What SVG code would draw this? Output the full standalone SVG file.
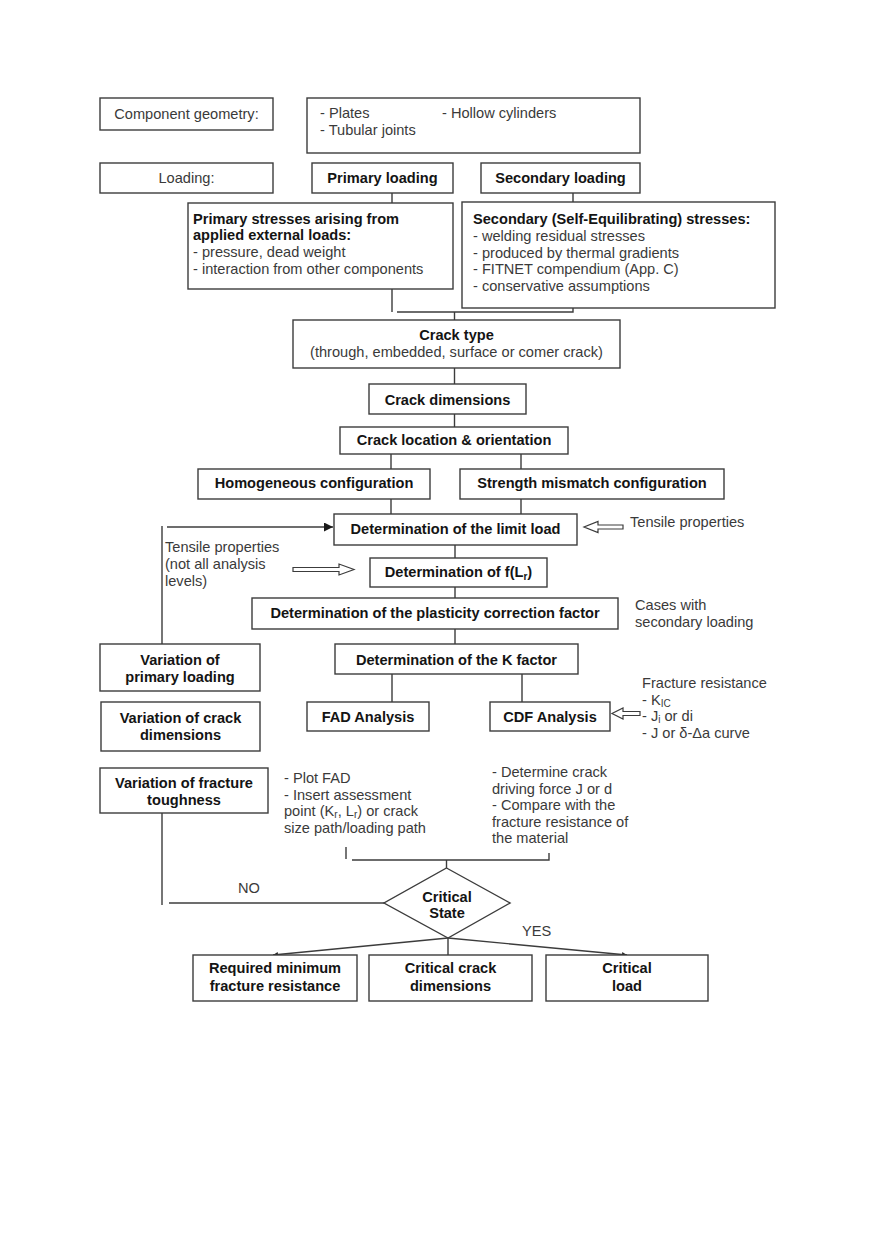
<svg xmlns="http://www.w3.org/2000/svg" width="872" height="1240" viewBox="0 0 872 1240">
<defs>
<style>
.box{fill:#fff;stroke:#3c3c3c;stroke-width:1.4}
.ln{fill:none;stroke:#3c3c3c;stroke-width:1.4}
.ha{fill:#fff;stroke:#3c3c3c;stroke-width:1.2}
text{font-family:"Liberation Sans",Arial,sans-serif;font-size:14.6px}
.r{fill:#3a3a3a}
.b{font-weight:bold;fill:#141414;text-anchor:middle}
.bl{font-weight:bold;fill:#141414}
.c{text-anchor:middle}
.sub{font-size:10px}
</style>
<marker id="ah" viewBox="0 0 10 10" refX="10" refY="5" markerWidth="9" markerHeight="9" markerUnits="userSpaceOnUse" orient="auto">
<path d="M0,0 L10,5 L0,10 z" fill="#1a1a1a"/>
</marker>
<marker id="sm" viewBox="0 0 10 10" refX="10" refY="5" markerWidth="6" markerHeight="5" markerUnits="userSpaceOnUse" orient="auto">
<path d="M0,0 L10,5 L0,10 z" fill="#2a2a2a"/>
</marker>
</defs>
<rect width="872" height="1240" fill="#fff"/>

<g id="connectors">
<line class="ln" x1="392" y1="193" x2="392" y2="203"/>
<line class="ln" x1="573" y1="193" x2="573" y2="202"/>
<line class="ln" x1="392" y1="289" x2="392" y2="312"/>
<polyline class="ln" points="397,312 573,312 573,308"/>
<line class="ln" x1="454.5" y1="312" x2="454.5" y2="320"/>
<line class="ln" x1="454.5" y1="368" x2="454.5" y2="384"/>
<line class="ln" x1="454.5" y1="414" x2="454.5" y2="427"/>
<line class="ln" x1="391" y1="454" x2="391" y2="469"/>
<line class="ln" x1="521" y1="454" x2="521" y2="469"/>
<line class="ln" x1="391" y1="499" x2="391" y2="514"/>
<line class="ln" x1="521" y1="499" x2="521" y2="514"/>
<line class="ln" x1="455" y1="545" x2="455" y2="558"/>
<line class="ln" x1="455" y1="587" x2="455" y2="598"/>
<line class="ln" x1="455" y1="629" x2="455" y2="644"/>
<line class="ln" x1="392" y1="674" x2="392" y2="702"/>
<line class="ln" x1="522" y1="674" x2="522" y2="702"/>
<line class="ln" x1="167" y1="527" x2="333" y2="527" marker-end="url(#ah)"/>
<line class="ln" x1="162" y1="526" x2="162" y2="644"/>
<line class="ln" x1="162" y1="813" x2="162" y2="905"/>
<line class="ln" x1="169" y1="903" x2="384" y2="903"/>
<line class="ln" x1="346" y1="847" x2="346" y2="859"/>
<polyline class="ln" points="352,860 549,860 549,853"/>
<line class="ln" x1="446.5" y1="860" x2="446.5" y2="868"/>
<line class="ln" x1="448" y1="938" x2="273" y2="955" marker-end="url(#sm)"/>
<line class="ln" x1="448" y1="938" x2="448" y2="955"/>
<line class="ln" x1="448" y1="938" x2="627" y2="955" marker-end="url(#sm)"/>
<polygon class="ha" points="293,567.5 339,567.5 339,564 354,569.5 339,575 339,571.5 293,571.5"/>
<polygon class="ha" points="623,525 598,525 598,521.5 584,527 598,532.5 598,529 623,529"/>
<polygon class="ha" points="640,711.5 623,711.5 623,708 612,713.5 623,719 623,715.5 640,715.5"/>
</g>

<g id="n-geometry-label"><rect class="box" x="100" y="98" width="173" height="32"/><text class="r c" x="186.5" y="119">Component geometry:</text></g>
<g id="n-geometry"><rect class="box" x="307" y="98" width="333" height="55"/>
<text class="r" x="320" y="118">- Plates</text><text class="r" x="442" y="118">- Hollow cylinders</text><text class="r" x="320" y="135">- Tubular joints</text></g>
<g id="n-loading-label"><rect class="box" x="100" y="163" width="173" height="30"/><text class="r c" x="186.5" y="183">Loading:</text></g>
<g id="n-primary-loading"><rect class="box" x="312" y="163" width="141" height="30"/><text class="b" x="382.5" y="183">Primary loading</text></g>
<g id="n-secondary-loading"><rect class="box" x="481" y="163" width="159" height="30"/><text class="b" x="560.5" y="183">Secondary loading</text></g>
<g id="n-primary-stresses"><rect class="box" x="188" y="203" width="265" height="86"/>
<text class="bl" x="193" y="224">Primary stresses arising from</text>
<text class="bl" x="193" y="240">applied external loads:</text>
<text class="r" x="193" y="257">- pressure, dead weight</text>
<text class="r" x="193" y="274">- interaction from other components</text></g>
<g id="n-secondary-stresses"><rect class="box" x="462" y="202" width="313" height="106"/>
<text class="bl" x="473" y="224">Secondary (Self-Equilibrating) stresses:</text>
<text class="r" x="473" y="241">- welding residual stresses</text>
<text class="r" x="473" y="257.5">- produced by thermal gradients</text>
<text class="r" x="473" y="274">- FITNET compendium (App. C)</text>
<text class="r" x="473" y="291">- conservative assumptions</text></g>
<g id="n-crack-type"><rect class="box" x="293" y="320" width="327" height="48"/>
<text class="b" x="456.5" y="340">Crack type</text><text class="r c" x="456.5" y="357">(through, embedded, surface or comer crack)</text></g>
<g id="n-crack-dimensions"><rect class="box" x="369" y="384" width="157" height="30"/><text class="b" x="447.5" y="405">Crack dimensions</text></g>
<g id="n-crack-location"><rect class="box" x="340" y="427" width="228" height="27"/><text class="b" x="454" y="445">Crack location &amp; orientation</text></g>
<g id="n-homogeneous"><rect class="box" x="198" y="469" width="232" height="30"/><text class="b" x="314" y="488">Homogeneous configuration</text></g>
<g id="n-mismatch"><rect class="box" x="460" y="469" width="264" height="30"/><text class="b" x="592" y="488">Strength mismatch configuration</text></g>
<g id="n-limit-load"><rect class="box" x="334" y="514" width="243" height="31"/><text class="b" x="455.5" y="534">Determination of the limit load</text></g>
<g id="n-tensile-right"><text class="r" x="630" y="527">Tensile properties</text></g>
<g id="n-tensile-left"><text class="r" x="165" y="552">Tensile properties</text><text class="r" x="165" y="569">(not all analysis</text><text class="r" x="165" y="586">levels)</text></g>
<g id="n-f-lr"><rect class="box" x="370" y="558" width="177" height="29"/><text class="b" x="458.5" y="577">Determination of f(L<tspan class="sub" dy="3">r</tspan><tspan dy="-3">)</tspan></text></g>
<g id="n-plasticity"><rect class="box" x="252" y="598" width="366" height="31"/><text class="b" x="435" y="618">Determination of the plasticity correction factor</text></g>
<g id="n-cases"><text class="r" x="635" y="610">Cases with</text><text class="r" x="635" y="627">secondary loading</text></g>
<g id="n-var-primary"><rect class="box" x="100" y="644" width="160" height="47"/><text class="b" x="180" y="665">Variation of</text><text class="b" x="180" y="682">primary loading</text></g>
<g id="n-k-factor"><rect class="box" x="335" y="644" width="243" height="30"/><text class="b" x="456.5" y="665">Determination of the K factor</text></g>
<g id="n-var-crack"><rect class="box" x="101" y="702" width="159" height="49"/><text class="b" x="180.5" y="723">Variation of crack</text><text class="b" x="180.5" y="740">dimensions</text></g>
<g id="n-fad"><rect class="box" x="307" y="702" width="122" height="29"/><text class="b" x="368" y="722">FAD Analysis</text></g>
<g id="n-cdf"><rect class="box" x="490" y="702" width="120" height="29"/><text class="b" x="550" y="722">CDF Analysis</text></g>
<g id="n-fracture-resistance">
<text class="r" x="642" y="688">Fracture resistance</text>
<text class="r" x="642" y="705">- K<tspan class="sub" dy="2">IC</tspan></text>
<text class="r" x="642" y="721">- J<tspan class="sub" dy="2">i</tspan><tspan dy="-2"> or di</tspan></text>
<text class="r" x="642" y="738">- J or δ-Δa curve</text></g>
<g id="n-var-toughness"><rect class="box" x="100" y="768" width="168" height="45"/><text class="b" x="184" y="788">Variation of fracture</text><text class="b" x="184" y="805">toughness</text></g>
<g id="n-fad-notes">
<text class="r" x="284" y="783">- Plot FAD</text>
<text class="r" x="284" y="799.5">- Insert assessment</text>
<text class="r" x="284" y="816">point (K<tspan class="sub" dy="2">r</tspan><tspan dy="-2">, L</tspan><tspan class="sub" dy="2">r</tspan><tspan dy="-2">) or crack</tspan></text>
<text class="r" x="284" y="832.5">size path/loading path</text></g>
<g id="n-cdf-notes">
<text class="r" x="492" y="777">- Determine crack</text>
<text class="r" x="492" y="793.5">driving force J or d</text>
<text class="r" x="492" y="810">- Compare with the</text>
<text class="r" x="492" y="826.5">fracture resistance of</text>
<text class="r" x="492" y="843">the material</text></g>
<g id="n-critical-state"><polygon class="box" points="446.5,868 510,903 448,938 384,903"/><text class="b" x="447" y="902">Critical</text><text class="b" x="447" y="918">State</text></g>
<g id="n-no-label"><text class="r" x="238" y="893">NO</text></g>
<g id="n-yes-label"><text class="r" x="522" y="936">YES</text></g>
<g id="n-req-min"><rect class="box" x="193" y="955" width="164" height="46"/><text class="b" x="275" y="973">Required minimum</text><text class="b" x="275" y="991">fracture resistance</text></g>
<g id="n-crit-crack"><rect class="box" x="369" y="955" width="163" height="46"/><text class="b" x="450.5" y="973">Critical crack</text><text class="b" x="450.5" y="991">dimensions</text></g>
<g id="n-crit-load"><rect class="box" x="546" y="955" width="162" height="46"/><text class="b" x="627" y="973">Critical</text><text class="b" x="627" y="991">load</text></g>
</svg>
